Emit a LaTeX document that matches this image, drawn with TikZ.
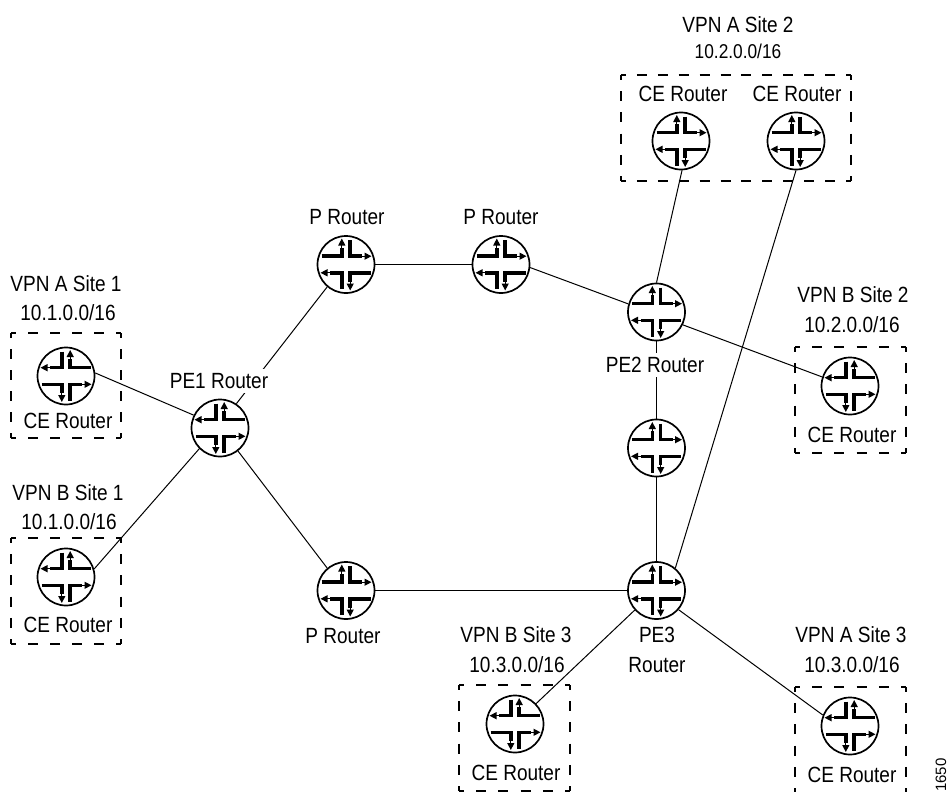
\documentclass[tikz,border=0pt]{standalone}
\usepackage{fontspec}
\setmainfont[FakeStretch=0.865]{Liberation Sans}
\newfontfamily\plainsans{Liberation Sans}
\usetikzlibrary{arrows.meta}
\tikzset{
  x=1pt,y=-1pt,
  router/.style={circle,draw=black,line width=1.7pt,minimum size=57pt,inner sep=0pt},
  link/.style={line width=1pt,draw=black},
  lab/.style={inner sep=0pt,font=\fontsize{22}{24}\selectfont,text=black},
  masklab/.style={lab,fill=white,inner xsep=3pt,inner ysep=4pt},
  armthick/.style={line width=3.5pt,line cap=butt,line join=miter},
  armtip/.style={line width=1.3pt,-{Triangle[length=7pt,width=7pt]}}
}
% one dashed side, with half a dash at each corner
\newcommand{\siteside}[5]{%
  \pgfmathsetmacro{\sideperiod}{#5/round(#5/20.7)}%
  \pgfmathsetmacro{\sidegap}{\sideperiod-10}%
  \draw[draw=black,line width=1.1pt,line cap=butt,dash pattern=on 10pt off \sidegap pt,dash phase=5pt] (#1,#2) -- (#3,#4);}
% dashed site box: left, top, right, bottom
\newcommand{\sitebox}[4]{%
  \pgfmathsetmacro{\boxw}{#3-#1}\pgfmathsetmacro{\boxh}{#4-#2}%
  \edef\bw{\boxw}\edef\bh{\boxh}%
  \siteside{#1}{#2}{#3}{#2}{\bw}
  \siteside{#1}{#4}{#3}{#4}{\bw}
  \siteside{#1}{#2}{#1}{#4}{\bh}
  \siteside{#3}{#2}{#3}{#4}{\bh}}
% arm: start, corner, thick end, tip
\newcommand{\rarm}[4]{%
  \draw[armthick] #1 -- #2 -- #3;
  \draw[armtip] #3 -- #4;}
% variant U : TL up, TR right, BL left, BR down
\newcommand{\iconU}[1]{\begin{scope}[shift={(#1.center)}]
  \rarm{(-24.5,-8.3)}{(-4.2,-8.3)}{(-4.2,-17)}{(-4.2,-26)}
  \rarm{(4.2,-24.5)}{(4.2,-8.3)}{(16,-8.3)}{(25.5,-8.3)}
  \rarm{(-4.2,24.5)}{(-4.2,8.3)}{(-16,8.3)}{(-25.5,8.3)}
  \rarm{(24.5,8.3)}{(4.2,8.3)}{(4.2,17)}{(4.2,26)}
\end{scope}}
% variant V : TL left, TR up, BL down, BR right
\newcommand{\iconV}[1]{\begin{scope}[shift={(#1.center)}]
  \rarm{(-4.2,-24.5)}{(-4.2,-8.3)}{(-16,-8.3)}{(-25.5,-8.3)}
  \rarm{(24.5,-8.3)}{(4.2,-8.3)}{(4.2,-17)}{(4.2,-26)}
  \rarm{(-24.5,8.3)}{(-4.2,8.3)}{(-4.2,17)}{(-4.2,26)}
  \rarm{(4.2,24.5)}{(4.2,8.3)}{(16,8.3)}{(25.5,8.3)}
\end{scope}}
\begin{document}
\begin{tikzpicture}
\useasboundingbox (0,0) rectangle (948,792);
% site boxes
\sitebox{621}{75}{851}{181}
\sitebox{11}{333}{121}{438}
\sitebox{11}{538}{121}{644}
\sitebox{795}{347}{906}{453}
\sitebox{459}{685}{570}{791}
\sitebox{795}{687}{906}{793}
% routers
\node[router] (ce2a) at (681,141) {};
\node[router] (ce2b) at (796,141) {};
\node[router] (cea1) at (66,376) {};
\node[router] (ceb1) at (66,577) {};
\node[router] (pe1) at (220,428) {};
\node[router] (p1) at (346,264.5) {};
\node[router] (p2) at (501,264.5) {};
\node[router] (pe2) at (656.5,312) {};
\node[router] (pm) at (656.5,448) {};
\node[router] (ceb2) at (850,386) {};
\node[router] (p3) at (346,590.5) {};
\node[router] (pe3) at (656.5,590.5) {};
\node[router] (ceb3) at (515,724) {};
\node[router] (cea3) at (850,726) {};
% connectors
\draw[link] (cea1.6) -- (pe1.154);
\draw[link] (ceb1.16) -- (pe1.225);
\draw[link] (pe1.56) -- (p1.230);
\draw[link] (pe1.-52) -- (p3.130);
\draw[link] (p1.east) -- (p2.west);
\draw[link] (p2.-6) -- (pe2.164);
\draw[link] (ce2a.-88) -- (pe2.90);
\draw[link] (pe2.-26) -- (ceb2.162);
\draw[link] (pe2.south) -- (pm.north);
\draw[link] (pm.south) -- (pe3.north);
\draw[link] (pe3.50) -- (ce2b.-90);
\draw[link] (p3.east) -- (pe3.west);
\draw[link] (pe3.222) -- (ceb3.44);
\draw[link] (pe3.-41) -- (cea3.158);
% icons
\iconU{ce2a}\iconU{ce2b}\iconU{p1}\iconU{p2}\iconU{pe2}\iconU{pm}\iconU{p3}\iconU{pe3}
\iconV{cea1}\iconV{ceb1}\iconV{pe1}\iconV{ceb2}\iconV{ceb3}\iconV{cea3}
% labels
\node[lab] (t1) at (738,25) {VPN A Site 2};
\node[lab,font=\fontsize{20}{22}\selectfont] (t2) at (738,51) {10.2.0.0/16};
\node[lab] (t3) at (683,94) {CE Router};
\node[lab] (t4) at (797,94) {CE Router};
\node[lab] (t5) at (347,217) {P Router};
\node[lab] (t6) at (501,217) {P Router};
\node[lab] (t7) at (66,284) {VPN A Site 1};
\node[lab] (t8) at (68,313) {10.1.0.0/16};
\node[lab] (t9) at (68,421) {CE Router};
\node[lab] (t10) at (68,493) {VPN B Site 1};
\node[lab] (t11) at (69,522) {10.1.0.0/16};
\node[lab] (t12) at (68,625) {CE Router};
\node[masklab] (t13) at (219,381) {PE1 Router};
\node[masklab] (t14) at (655,365) {PE2 Router};
\node[lab] (t15) at (853,295) {VPN B Site 2};
\node[lab] (t16) at (852,325) {10.2.0.0/16};
\node[lab] (t17) at (852,435) {CE Router};
\node[lab] (t18) at (343,636) {P Router};
\node[lab] (t19) at (516,635) {VPN B Site 3};
\node[lab] (t20) at (517,665) {10.3.0.0/16};
\node[lab] (t21) at (516,773) {CE Router};
\node[lab] (t22) at (657,635) {PE3};
\node[lab] (t23) at (657,665) {Router};
\node[lab] (t24) at (851,635) {VPN A Site 3};
\node[lab] (t25) at (852,665) {10.3.0.0/16};
\node[lab] (t26) at (852,775) {CE Router};
\node[inner sep=0pt,rotate=90,font=\plainsans\fontsize{15}{15}\selectfont] (t27) at (941,775) {1650};
\end{tikzpicture}
\end{document}
